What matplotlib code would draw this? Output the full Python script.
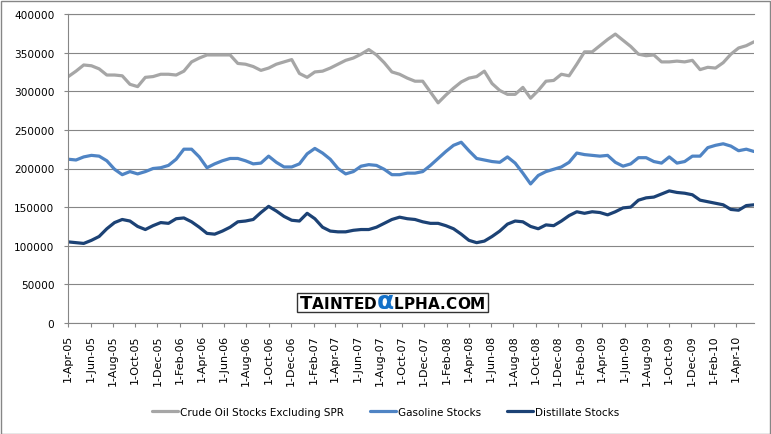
import matplotlib
matplotlib.use('Agg')
import matplotlib.pyplot as plt
from matplotlib.patches import Rectangle
from matplotlib.offsetbox import TextArea, HPacker, AnchoredOffsetbox
import numpy as np
import pandas as pd

# values, thousand barrels, one point every ~3 weeks
dates = pd.date_range('2005-04-01', '2010-05-21', periods=90)

crude_k = [319, 326, 334, 333, 329, 321, 321, 320, 309, 306,
           318, 319, 322, 322, 321, 326, 338, 343, 347, 347,
           347, 347, 336, 335, 332, 327, 330, 335, 338, 341,
           323, 318, 325, 326, 330, 335, 340, 343, 348, 354,
           347, 337, 325, 322, 317, 313, 313, 299, 285, 295,
           304, 312, 317, 319, 326, 310, 301, 296, 296, 305,
           291, 301, 313, 314, 322, 320, 335, 351, 351, 359,
           367, 374, 366, 358, 348, 346, 347, 338, 338, 339,
           338, 340, 328, 331, 330, 337, 348, 356, 359, 364]

gasoline_k = [212, 211, 215, 217, 216, 210, 199, 192, 196, 193,
              196, 200, 201, 204, 212, 225, 225, 215, 201, 206,
              210, 213, 213, 210, 206, 207, 216, 208, 202, 202,
              206, 219, 226, 220, 212, 200, 193, 196, 203, 205,
              204, 199, 192, 192, 194, 194, 196, 204, 213, 222,
              230, 234, 223, 213, 211, 209, 208, 215, 207, 194,
              180, 191, 196, 199, 202, 208, 220, 218, 217, 216,
              217, 208, 203, 206, 214, 214, 209, 207, 215, 207,
              209, 216, 216, 227, 230, 232, 229, 223, 225, 222]

distillate_k = [105, 104, 103, 107, 112, 122, 130, 134, 132, 125,
                121, 126, 130, 129, 135, 136, 131, 124, 116, 115,
                119, 124, 131, 132, 134, 143, 151, 145, 138, 133,
                132, 142, 135, 124, 119, 118, 118, 120, 121, 121,
                124, 129, 134, 137, 135, 134, 131, 129, 129, 126,
                122, 115, 107, 104, 106, 112, 119, 128, 132, 131,
                125, 122, 127, 126, 132, 139, 144, 142, 144, 143,
                140, 144, 149, 150, 159, 162, 163, 167, 171, 169,
                168, 166, 159, 157, 155, 153, 147, 146, 152, 153]

series_names = ['Crude Oil Stocks Excluding SPR', 'Gasoline Stocks', 'Distillate Stocks']
series_colors = ['#A6A6A6', '#4F84C4', '#1C4275']

tick_dates = pd.date_range('2005-04-01', '2010-04-01', freq='2MS')
tick_labels = [f"{d.day}-{d.strftime('%b-%y')}" for d in tick_dates]
y_ticks = list(range(0, 400001, 50000))

grid_c = '#868686'

fig = plt.figure(figsize=(7.71, 4.35), dpi=100)
fig.patch.set_facecolor('white')
ax = fig.add_axes([68.3 / 771, 111 / 435, (754 - 68.3) / 771, 309 / 435])

lines = []
for vals, name, col in zip([crude_k, gasoline_k, distillate_k], series_names, series_colors):
    ln, = ax.plot(dates, np.array(vals) * 1000, color=col, lw=2.3, label=name,
                  solid_joinstyle='round', solid_capstyle='round')
    lines.append(ln)

ax.set_xlim(dates[0], dates[-1])
ax.set_ylim(0, 400000)
ax.set_yticks(y_ticks)
ax.set_yticklabels([str(v) for v in y_ticks])
ax.set_xticks(tick_dates)
ax.set_xticklabels(tick_labels, rotation=90, ha='center', va='top')
ax.yaxis.grid(True, color=grid_c, lw=0.8)
ax.set_axisbelow(True)

ax.spines['right'].set_visible(False)
for s in ['left', 'bottom', 'top']:
    ax.spines[s].set_color(grid_c)
    ax.spines[s].set_linewidth(0.8)
ax.tick_params(axis='y', direction='out', length=3, color=grid_c, labelsize=7.6, pad=7)
ax.tick_params(axis='x', direction='out', length=3, color=grid_c, labelsize=8, pad=5)

fig.legend(lines, series_names, loc='center', bbox_to_anchor=(0.5, 0.051), ncol=3,
           frameon=False, fontsize=7.5, handlelength=2.5, handletextpad=0.2,
           columnspacing=2.5)

# chart border
fig.add_artist(Rectangle((0.5 / 771, 0.5 / 435), 769 / 771, 433 / 435, transform=fig.transFigure,
                         fill=False, edgecolor=grid_c, lw=1))

# logo
fig.add_artist(Rectangle((297 / 771, (435 - 313) / 435), 191 / 771, 19 / 435,
                         transform=fig.transFigure, facecolor='white', edgecolor='#333333',
                         lw=1, zorder=3))
logo = [('T', 13, 'black'), ('A', 11, 'black'), ('I', 11, 'black'), ('N', 11, 'black'),
        ('T', 11, 'black'), ('E', 11, 'black'), ('D', 11, 'black'), ('\u03b1', 18, '#1370C8'),
        ('L', 11, 'black'), ('P', 11, 'black'), ('H', 11, 'black'), ('A', 11, 'black'),
        ('.', 11, 'black'), ('C', 11, 'black'), ('O', 11, 'black'), ('M', 11, 'black')]
areas = [TextArea(ch, textprops=dict(fontsize=sz, color=c, fontweight='bold'))
         for ch, sz, c in logo]
pack = HPacker(children=areas, align='baseline', pad=0, sep=0.1)
box = AnchoredOffsetbox(loc='center', child=pack, pad=0, frameon=False,
                        bbox_to_anchor=(0.509, 0.306), bbox_transform=fig.transFigure,
                        borderpad=0)
box.set_zorder(4)
fig.add_artist(box)

fig.savefig('out.png', dpi=100)
